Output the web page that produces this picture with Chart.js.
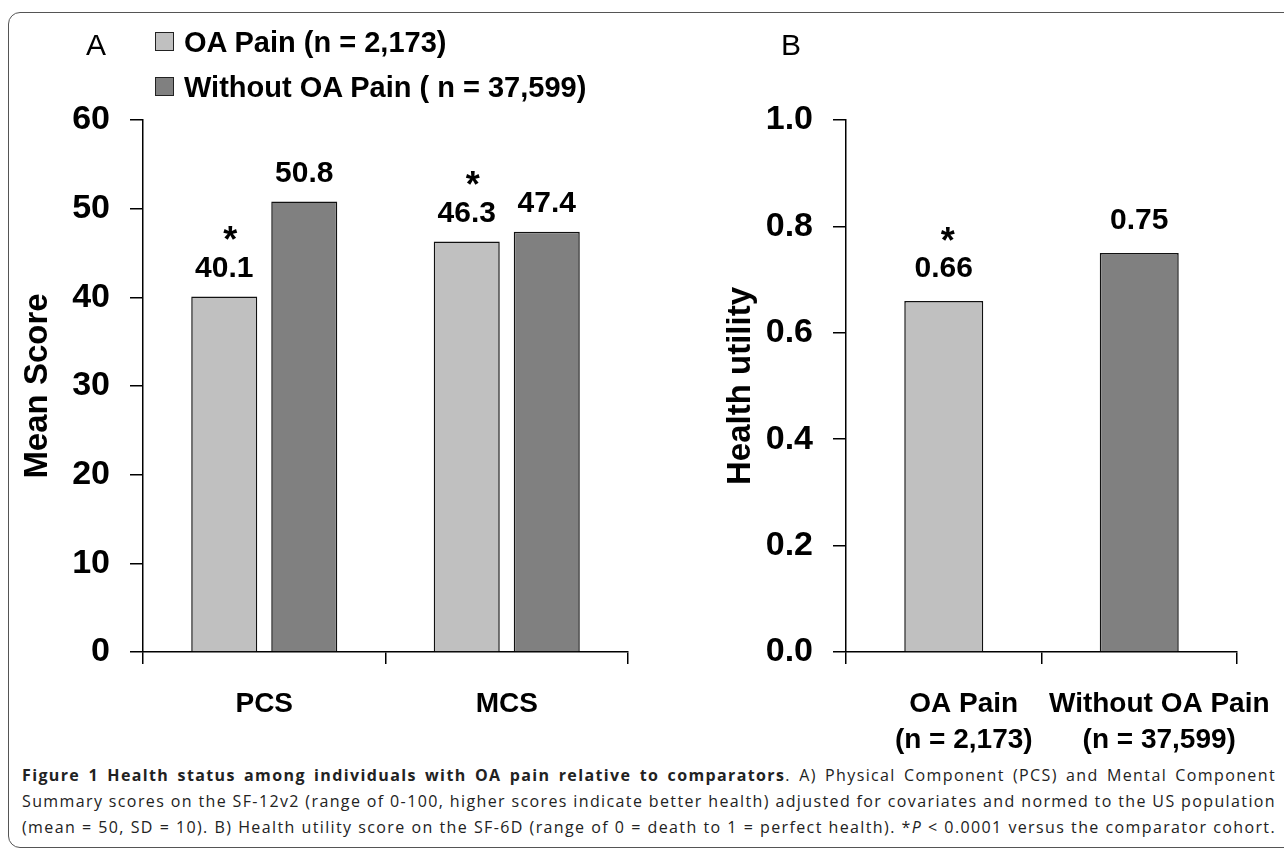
<!DOCTYPE html>
<html><head><meta charset="utf-8">
<script src="https://cdn.jsdelivr.net/npm/chart.js@4.4.0/dist/chart.umd.min.js"></script>
<style>
html,body{margin:0;padding:0;background:#fff;width:1284px;height:853px;overflow:hidden;}
#frame{position:absolute;left:8px;top:12px;width:1300px;height:836px;border:1.5px solid #555;border-radius:12px;box-sizing:border-box;}
.wrap{position:absolute;top:0;}
#wa{left:0;width:640px;height:760px;}
#wb{left:640px;width:644px;height:760px;}
.panel{position:absolute;font-family:"Liberation Sans",Arial,sans-serif;font-size:30px;line-height:30px;color:#000;}
#legend{position:absolute;left:155px;top:20px;font-family:"Liberation Sans",Arial,sans-serif;font-weight:bold;font-size:29px;}
#legend .row{height:45px;line-height:45px;white-space:nowrap;}
#legend .sw{display:inline-block;width:17px;height:17px;border:1.5px solid #222;margin-right:10px;vertical-align:middle;position:relative;top:-3px;}
#caption{position:absolute;left:22px;top:762px;width:1254px;font-family:"Open Sans",sans-serif;color:#222;}
#caption div{height:26px;line-height:26px;text-align:justify;white-space:nowrap;font-size:16px;}
#caption span.m{display:inline-block;}
</style></head>
<body>
<div id="frame"></div>
<div class="wrap" id="wa"><canvas id="ca" width="640" height="760"></canvas></div>
<div class="wrap" id="wb"><canvas id="cb" width="644" height="760"></canvas></div>
<div class="panel" style="left:86px;top:30px;">A</div>
<div class="panel" style="left:781px;top:30px;">B</div>
<div id="legend"></div>
<div id="caption">
<div><span class="m"><b>Figure 1 Health status among individuals with OA pain relative to comparators</b>. A) Physical Component (PCS) and Mental Component</span></div>
<div><span class="m">Summary scores on the SF-12v2 (range of 0-100, higher scores indicate better health) adjusted for covariates and normed to the US population</span></div>
<div><span class="m">(mean = 50, SD = 10). B) Health utility score on the SF-6D (range of 0 = death to 1 = perfect health). *<i>P</i> &lt; 0.0001 versus the comparator cohort.</span></div>
</div>
<script>
// ---- data ----
const categoriesA = ['PCS', 'MCS'];
const seriesNames = ['OA Pain (n = 2,173)', 'Without OA Pain ( n = 37,599)'];
const oaPainScores = [40.1, 46.3];
const withoutOaPainScores = [50.8, 47.4];
const oaPainSignificant = [true, true];
const withoutSignificant = [false, false];
const yTitleA = 'Mean Score';
const yMaxA = 60, yStepA = 10;

const categoriesB = [['OA Pain', '(n = 2,173)'], ['Without OA Pain', '(n = 37,599)']];
const utilityValues = [0.66, 0.75];
const utilitySignificant = [true, false];
const yTitleB = 'Health utility';
const yMaxB = 1.0, yStepB = 0.2;

const colors = ['#C0C0C0', '#808080'];

// ---- caption fit: letter-spacing so each line fills the width ----
(function () {
  const spans = Array.from(document.querySelectorAll('#caption span.m'));
  let ls = 10;
  spans.forEach(s => {
    const w = s.getBoundingClientRect().width;
    const n = s.textContent.length;
    ls = Math.min(ls, (1254 - w) / n);
  });
  spans.forEach(s => { s.style.display = 'inline'; s.style.letterSpacing = ls + 'px'; s.parentNode.style.textAlignLast = 'justify'; });
})();

// ---- legend ----
const lg = document.getElementById('legend');
seriesNames.forEach((n, i) => {
  const r = document.createElement('div'); r.className = 'row';
  const s = document.createElement('span'); s.className = 'sw'; s.style.background = colors[i];
  r.appendChild(s); r.appendChild(document.createTextNode(n)); lg.appendChild(r);
});

const SANS = '"Liberation Sans",Arial,sans-serif';

const labelPlugin = {
  id: 'vlabels',
  afterDatasetsDraw(chart, args, opts) {
    const ctx = chart.ctx;
    ctx.save();
    ctx.fillStyle = '#000';
    ctx.textAlign = 'center';
    ctx.textBaseline = 'middle';
    chart.data.datasets.forEach((ds, di) => {
      const meta = chart.getDatasetMeta(di);
      meta.data.forEach((bar, i) => {
        const v = ds.data[i];
        ctx.font = 'bold 30px ' + SANS;
        ctx.fillText(opts.fmt(v), bar.x, bar.y - opts.numOff);
        if (ds.sig[i]) {
          ctx.font = 'bold 36px ' + SANS;
          ctx.fillText('*', bar.x + opts.starDx, bar.y - opts.starOff);
        }
      });
    });
    ctx.restore();
  }
};

function axisCommon(yTitle, max, step, fmt, yWidth, titlePad, xHeight, labelOffset) {
  return {
    x: {
      grid: { display: true, drawOnChartArea: false, drawTicks: true, tickLength: 12, color: '#000', lineWidth: 1.5, offset: true },
      border: { display: true, color: '#000', width: 1.5 },
      ticks: { color: '#000', font: { family: SANS, size: 28, weight: 'bold', lineHeight: 1.3 }, padding: 22, maxRotation: 0, autoSkip: false, labelOffset: labelOffset },
      afterFit(s) { s.height = xHeight; }
    },
    y: {
      min: 0, max: max,
      grid: { display: true, drawOnChartArea: false, drawTicks: true, tickLength: 13, color: '#000', lineWidth: 1.5 },
      border: { display: true, color: '#000', width: 1.5 },
      ticks: { stepSize: step, color: '#000', font: { family: SANS, size: 34, weight: 'bold' }, padding: 20, callback: fmt },
      title: { display: true, text: yTitle, color: '#000', font: { family: SANS, size: 33, weight: 'bold' }, padding: { top: titlePad, bottom: 0 } },
      afterFit(s) { s.width = yWidth; }
    }
  };
}

new Chart(document.getElementById('ca'), {
  type: 'bar',
  data: {
    labels: categoriesA,
    datasets: [
      { label: seriesNames[0], data: oaPainScores, sig: oaPainSignificant, backgroundColor: colors[0], borderColor: '#111', borderWidth: 1.5, borderSkipped: 'bottom', categoryPercentage: 0.66, barPercentage: 0.825 },
      { label: seriesNames[1], data: withoutOaPainScores, sig: withoutSignificant, backgroundColor: colors[1], borderColor: '#111', borderWidth: 1.5, borderSkipped: 'bottom', categoryPercentage: 0.66, barPercentage: 0.825 }
    ]
  },
  options: {
    responsive: false, animation: false, devicePixelRatio: 1,
    layout: { padding: { top: 120, right: 12, left: 0, bottom: 0 } },
    plugins: { legend: { display: false }, tooltip: { enabled: false },
      vlabels: { fmt: v => v.toFixed(1), numOff: 28, starOff: 54, starDx: 6 } },
    scales: axisCommon(yTitleA, yMaxA, yStepA, v => String(v), 143, 18, 108, 0)
  },
  plugins: [labelPlugin]
});

new Chart(document.getElementById('cb'), {
  type: 'bar',
  data: {
    labels: categoriesB,
    datasets: [
      { label: 'Health utility', data: utilityValues, sig: utilitySignificant, backgroundColor: colors, borderColor: '#111', borderWidth: 1.5, borderSkipped: 'bottom', categoryPercentage: 0.8, barPercentage: 0.505 }
    ]
  },
  options: {
    responsive: false, animation: false, devicePixelRatio: 1,
    layout: { padding: { top: 120, right: 47, left: 0, bottom: 0 } },
    plugins: { legend: { display: false }, tooltip: { enabled: false },
      vlabels: { fmt: v => v.toFixed(2), numOff: 32, starOff: 58, starDx: 4 } },
    scales: axisCommon(yTitleB, yMaxB, yStepB, v => Number(v).toFixed(1), 206, 81, 108, 20)
  },
  plugins: [labelPlugin]
});
</script>
</body></html>
